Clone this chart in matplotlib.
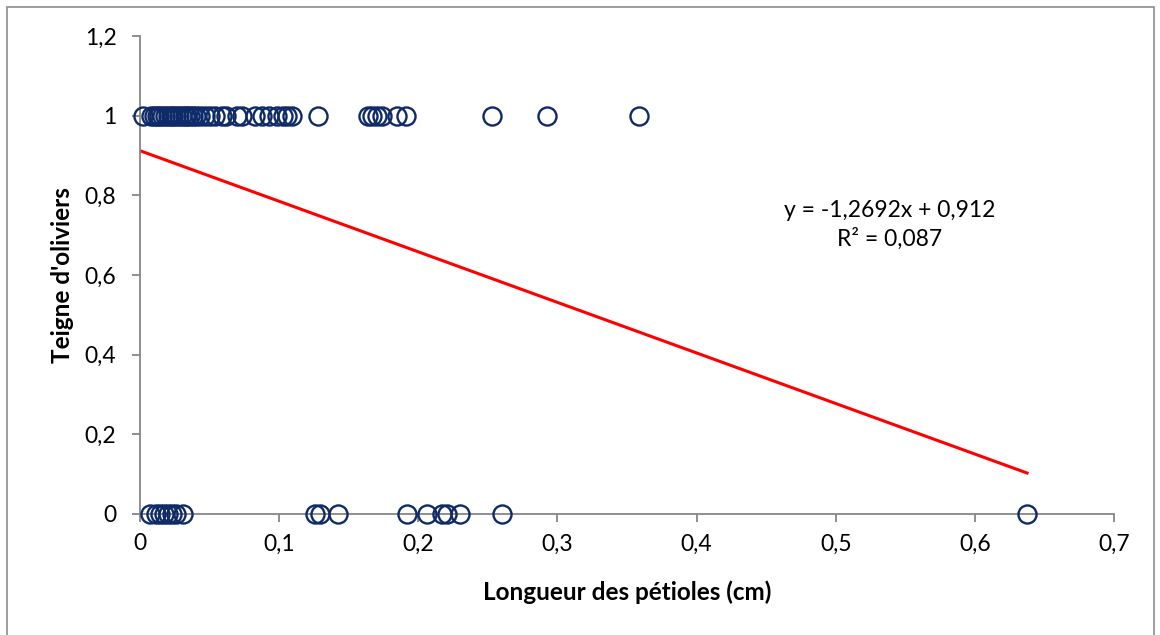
import matplotlib
matplotlib.use("Agg")
import matplotlib.pyplot as plt
from matplotlib.patches import Rectangle
import numpy as np

# Petiole length (cm) for leaves with moth presence (1) and absence (0)
x_present = [0.002, 0.008, 0.010, 0.012, 0.014, 0.016, 0.018, 0.020, 0.022,
             0.024, 0.026, 0.028, 0.030, 0.032, 0.034, 0.036, 0.038, 0.040,
             0.043, 0.047, 0.050, 0.054, 0.059, 0.062, 0.070, 0.073, 0.083,
             0.088, 0.093, 0.0985, 0.103, 0.106, 0.109, 0.128, 0.164, 0.167,
             0.170, 0.174, 0.185, 0.191, 0.253, 0.2925, 0.3586]
x_absent = [0.0072, 0.0115, 0.0144, 0.0172, 0.0201, 0.023, 0.0259, 0.031,
            0.1258, 0.1294, 0.1423, 0.1919, 0.2063, 0.217, 0.2206, 0.230,
            0.260, 0.6375]

# Linear trend reported on the chart
slope = -1.2692
intercept = 0.912
r2 = 0.087

x_ticks = [0, 0.1, 0.2, 0.3, 0.4, 0.5, 0.6, 0.7]
y_ticks = [0, 0.2, 0.4, 0.6, 0.8, 1.0, 1.2]

def fr(v):
    s = f"{v:g}"
    return s.replace(".", ",")

plt.rcParams['font.family'] = ['Lato', 'DejaVu Sans']

fig = plt.figure(figsize=(11.6, 6.35), dpi=100)
ax = fig.add_axes([140/1160, 1 - 514/635, (1114-140)/1160, (514-36)/635])

# outer chart frame
fig.patches.append(Rectangle((7/1160, -0.1), (1154-7)/1160, 1.1 - 7/635,
                             transform=fig.transFigure, fill=False,
                             edgecolor='#8c8c8c', linewidth=1.2))

navy = '#0f2a68'
xs = x_present + x_absent
ys = [1] * len(x_present) + [0] * len(x_absent)
ax.plot(xs, ys, linestyle='none', marker='o', markersize=13,
        markerfacecolor='none', markeredgecolor=navy, markeredgewidth=1.7,
        clip_on=False, zorder=3)

xl = np.array([0.0, max(xs)])
ax.plot(xl, slope * xl + intercept, color='#ff0000', linewidth=2.2, zorder=2)

ax.text(0.539, 0.726, f"y = {fr(slope)}x + {fr(intercept)}\nR² = {fr(r2)}",
        ha='center', va='center', fontsize=16.5, linespacing=1.4,
        color='black')

ax.set_xlim(0, 0.7)
ax.set_ylim(0, 1.2)
ax.set_xticks(x_ticks)
ax.set_yticks(y_ticks)
ax.set_xticklabels([fr(v) for v in x_ticks])
ax.set_yticklabels([fr(v) for v in y_ticks])

for s in ['top', 'right']:
    ax.spines[s].set_visible(False)
for s in ['left', 'bottom']:
    ax.spines[s].set_color('#868686')
    ax.spines[s].set_linewidth(1.3)

ax.tick_params(axis='both', direction='out', length=6, width=1.3,
               color='#868686', labelsize=16.5, labelcolor='black')
ax.tick_params(axis='y', pad=11)
ax.tick_params(axis='x', pad=8)

ax.set_xlabel("Longueur des pétioles (cm)", fontsize=17.5, fontweight='bold',
              labelpad=19)
ax.set_ylabel("Teigne d'oliviers", fontsize=17.5, fontweight='bold',
              labelpad=8)

fig.savefig("out.png", dpi=100)
